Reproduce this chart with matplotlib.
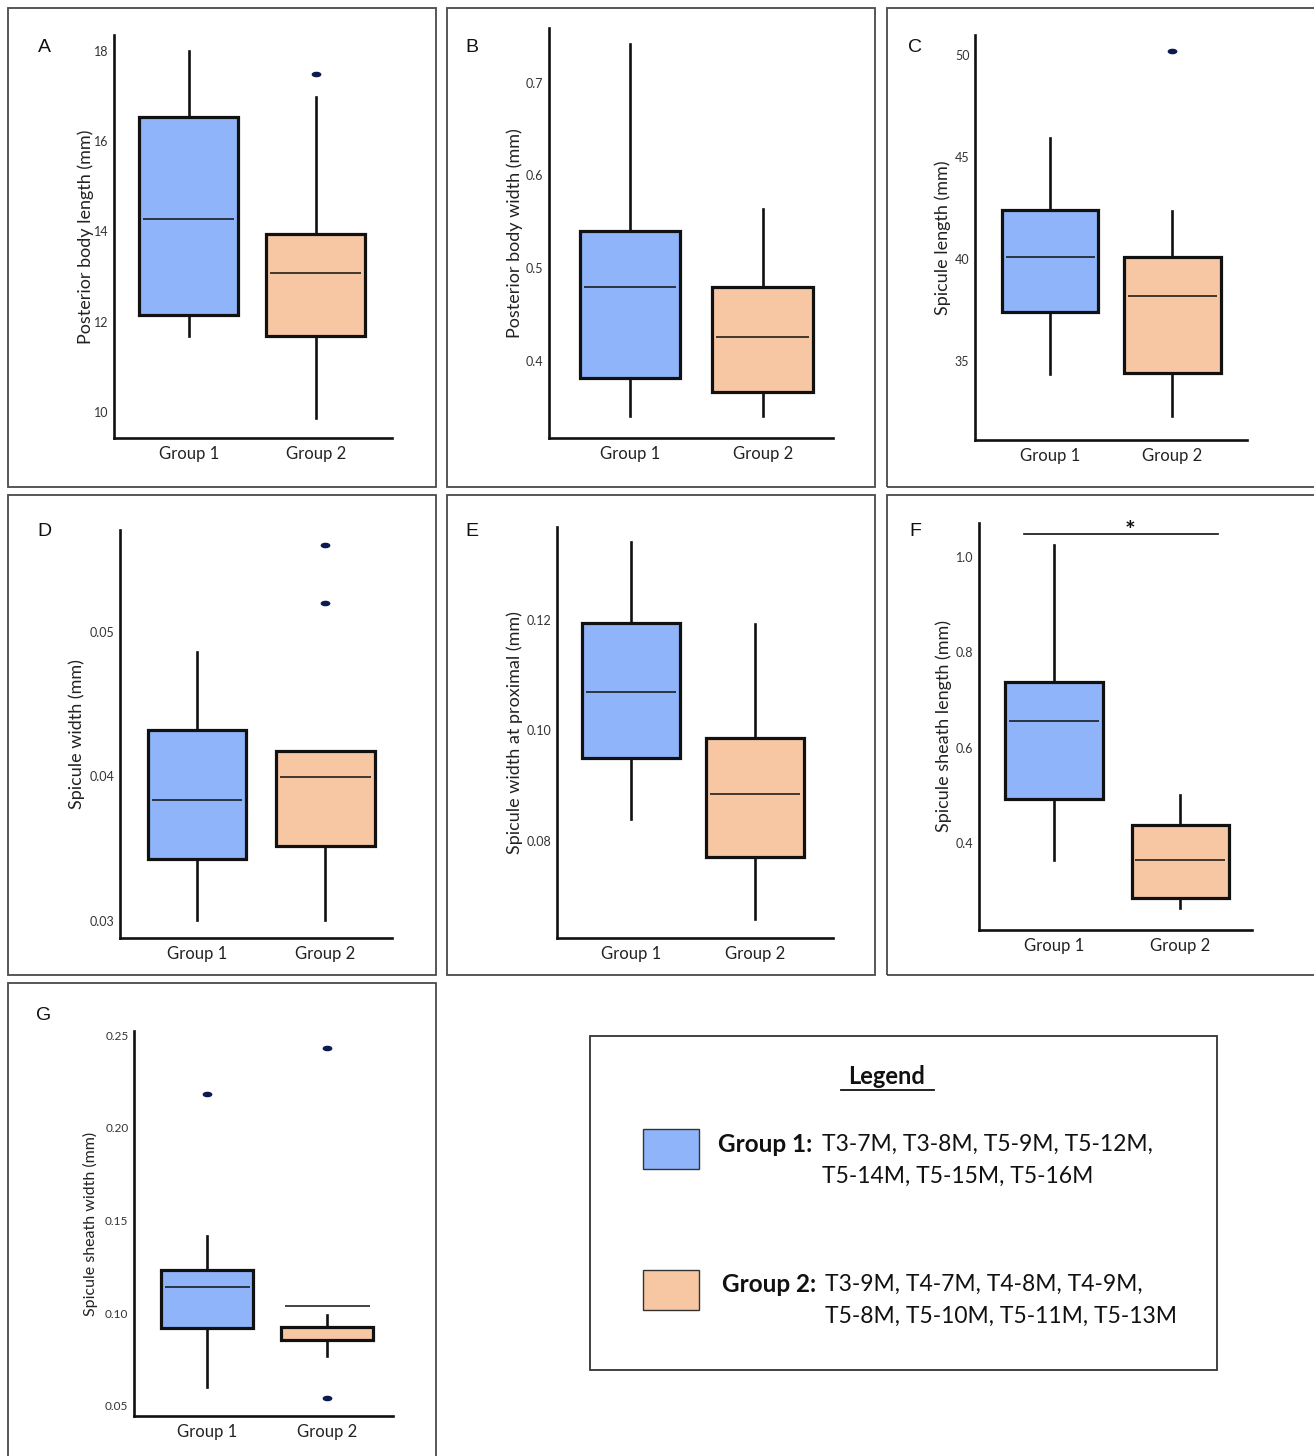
import matplotlib
matplotlib.use("Agg")
import matplotlib.pyplot as plt
from matplotlib.patches import Rectangle
from matplotlib.path import Path
from matplotlib.transforms import Affine2D

W, H = 1314, 1456

# ---- data: (whisker low, Q1, median, Q3, whisker high) ----
groups = ["Group 1", "Group 2"]

a_g1 = [11.67, 12.15, 14.28, 16.54, 18.0]
a_g2 = [9.87, 11.67, 13.08, 13.95, 16.98]
a_fl = [[], [17.49]]

b_g1 = [0.341, 0.382, 0.480, 0.540, 0.742]
b_g2 = [0.341, 0.367, 0.426, 0.480, 0.564]
b_fl = [[], []]

c_g1 = [34.36, 37.4, 40.1, 42.4, 45.93]
c_g2 = [32.3, 34.41, 38.19, 40.1, 42.35]
c_fl = [[], [50.2]]

d_g1 = [0.0301, 0.03426, 0.03834, 0.04325, 0.04862]
d_g2 = [0.0301, 0.03522, 0.03993, 0.04173, 0.04173]
d_fl = [[], [0.0560, 0.0520]]

e_g1 = [0.08398, 0.09506, 0.10686, 0.1195, 0.1341]
e_g2 = [0.06579, 0.07701, 0.08842, 0.09855, 0.1193]
e_fl = [[], []]

f_g1 = [0.364, 0.492, 0.656, 0.738, 1.025]
f_g2 = [0.264, 0.285, 0.364, 0.438, 0.500]
f_fl = [[], []]

g_g1 = [0.0603, 0.0921, 0.1142, 0.1233, 0.1416]
g_g2 = [0.0768, 0.0854, 0.1038, 0.0925, 0.0989]
g_fl = [[0.2182], [0.243, 0.0543]]

a_ticks = [10, 12, 14, 16, 18]
b_ticks = [0.4, 0.5, 0.6, 0.7]
c_ticks = [35, 40, 45, 50]
d_ticks = [0.03, 0.04, 0.05]
e_ticks = [0.08, 0.10, 0.12]
f_ticks = [0.4, 0.6, 0.8, 1.0]
g_ticks = [0.05, 0.10, 0.15, 0.20, 0.25]

a_lab = ["10", "12", "14", "16", "18"]
b_lab = ["0.4", "0.5", "0.6", "0.7"]
c_lab = ["35", "40", "45", "50"]
d_lab = ["0.03", "0.04", "0.05"]
e_lab = ["0.08", "0.10", "0.12"]
f_lab = ["0.4", "0.6", "0.8", "1.0"]
g_lab = ["0.05", "0.10", "0.15", "0.20", "0.25"]

g1_members = "T3-7M, T3-8M, T5-9M, T5-12M,"
g1_members2 = "T5-14M, T5-15M, T5-16M"
g2_members = "T3-9M, T4-7M, T4-8M, T4-9M,"
g2_members2 = "T5-8M, T5-10M, T5-11M, T5-13M"

BLUE = "#8fb4fa"
PEACH = "#f7c6a3"
INK = "#111111"

plt.rcParams["font.family"] = ["Lato", "DejaVu Sans"]

fig = plt.figure(figsize=(W / 100, H / 100), dpi=100)
fig.patch.set_facecolor("white")


def px_rect(x0, y0, x1, y1):
    return [x0 / W, 1 - y1 / H, (x1 - x0) / W, (y1 - y0) / H]


# ellipse marker for outliers
ell = Path.unit_circle().transformed(Affine2D().scale(1.0, 0.5))

# panel layout: letter, letter pos px, frame px, axes px, xlim, ylim, box width, ylabel, label size, labelpad
panels = [
    ("A", (44, 47), (8, 8, 436, 487), (114, 35, 392, 438), (0.41, 2.60), (9.42, 18.35), 0.78,
     "Posterior body length (mm)", 13, 0, a_g1, a_g2, a_fl, a_ticks, a_lab),
    ("B", (472, 47), (447, 8, 875, 487), (549, 28, 833, 438), (0.39, 2.53), (0.317, 0.759), 0.76,
     "Posterior body width (mm)", 13, 2, b_g1, b_g2, b_fl, b_ticks, b_lab),
    ("C", (915, 47), (887, 8, 1320, 487), (975, 35, 1247, 440), (0.385, 2.61), (31.13, 50.98), 0.79,
     "Spicule length (mm)", 13, 3, c_g1, c_g2, c_fl, c_ticks, c_lab),
    ("D", (44, 531), (8, 495, 436, 975), (120, 530, 392, 938), (0.40, 2.52), (0.02882, 0.05706), 0.77,
     "Spicule width (mm)", 13, 3, d_g1, d_g2, d_fl, d_ticks, d_lab),
    ("E", (472, 531), (447, 495, 875, 975), (557, 527, 833, 938), (0.40, 2.63), (0.06244, 0.1368), 0.79,
     "Spicule width at proximal (mm)", 13, 3, e_g1, e_g2, e_fl, e_ticks, e_lab),
    ("F", (915, 531), (887, 495, 1320, 975), (979, 523, 1252, 930), (0.405, 2.57), (0.2175, 1.071), 0.77,
     "Spicule sheath length (mm)", 13, 3, f_g1, f_g2, f_fl, f_ticks, f_lab),
    ("G", (44, 1015), (8, 983, 436, 1470), (134, 1031, 393, 1416), (0.39, 2.55), (0.0446, 0.2522), 0.77,
     "Spicule sheath width (mm)", 11.5, 5, g_g1, g_g2, g_fl, g_ticks, g_lab),
]

for (letter, lpos, frame, box, xlim, ylim, bw, ylabel, lsize, lpad, s1, s2, fl, ticks, labs) in panels:
    fx0, fy0, fx1, fy1 = frame
    fig.patches.append(Rectangle((fx0 / W, 1 - fy1 / H), (fx1 - fx0) / W, (fy1 - fy0) / H,
                                 transform=fig.transFigure, fill=False,
                                 edgecolor="#4a4a4a", linewidth=1.3))
    fig.text(lpos[0] / W, 1 - lpos[1] / H, letter, family="Liberation Sans",
             fontsize=14, color=INK, ha="center", va="center")

    ax = fig.add_axes(px_rect(*box))
    stats = []
    for s, f in zip([s1, s2], fl):
        stats.append(dict(whislo=s[0], q1=s[1], med=s[2], q3=s[3], whishi=s[4], fliers=f))
    bp = ax.bxp(stats, positions=[1, 2], widths=bw, patch_artist=True, showcaps=False,
                boxprops=dict(linewidth=2.3, edgecolor=INK),
                whiskerprops=dict(linewidth=1.9, color=INK),
                medianprops=dict(linewidth=0),
                flierprops=dict(marker=ell, markersize=6, markerfacecolor="#0c1a4f",
                                markeredgecolor="#0c1a4f", linestyle="none"))
    for patch, col in zip(bp["boxes"], [BLUE, PEACH]):
        patch.set_facecolor(col)
    for pos, s in zip([1, 2], [s1, s2]):
        ax.hlines(s[2], pos - bw * 0.46, pos + bw * 0.46, color=INK, linewidth=1.1, zorder=4)

    ax.set_xlim(*xlim)
    ax.set_ylim(*ylim)
    ax.set_xticks([1, 2])
    ax.set_xticklabels(groups, fontsize=12, color="#222222")
    ax.set_yticks(ticks)
    ax.set_yticklabels(labs, fontsize=9 if letter != "G" else 8.5, color="#333333")
    ax.tick_params(length=0, axis="y", pad=4)
    ax.tick_params(length=0, axis="x", pad=6)
    for sp in ["top", "right"]:
        ax.spines[sp].set_visible(False)
    for sp in ["left", "bottom"]:
        ax.spines[sp].set_linewidth(1.9)
        ax.spines[sp].set_color(INK)
    ax.set_ylabel(ylabel, fontsize=lsize, color="#222222", labelpad=lpad)
    ax.patch.set_alpha(0)

    if letter == "F":
        ax.plot([0.762, 2.302], [1.048, 1.048], color=INK, linewidth=1.2, clip_on=False)
        ax.text(1.6, 1.03, "*", ha="center", va="bottom", fontsize=18, fontweight="bold",
                color=INK, clip_on=False)

# ---- legend box ----
fig.patches.append(Rectangle((590 / W, 1 - 1370 / H), (1217 - 590) / W, (1370 - 1036) / H,
                             transform=fig.transFigure, fill=False,
                             edgecolor="#333333", linewidth=1.3))
fig.text(887 / W, 1 - 1076 / H, "Legend", fontsize=17, fontweight="bold",
         ha="center", va="center", color=INK)
fig.lines.append(plt.Line2D([841 / W, 934 / W], [1 - 1090 / H, 1 - 1090 / H],
                            transform=fig.transFigure, color=INK, linewidth=1.3))
for y0, col in [(1129, BLUE), (1270, PEACH)]:
    fig.patches.append(Rectangle((643 / W, 1 - (y0 + 40) / H), 56 / W, 40 / H,
                                 transform=fig.transFigure, facecolor=col,
                                 edgecolor="#333333", linewidth=1.0))

fig.text(718 / W, 1 - 1144 / H, "Group 1:", fontsize=17.5, fontweight="bold",
         ha="left", va="center", color=INK)
fig.text(822 / W, 1 - 1144 / H, g1_members, fontsize=16.5, ha="left", va="center", color=INK)
fig.text(822 / W, 1 - 1176 / H, g1_members2, fontsize=16.5, ha="left", va="center", color=INK)
fig.text(722 / W, 1 - 1284 / H, "Group 2:", fontsize=17.5, fontweight="bold",
         ha="left", va="center", color=INK)
fig.text(825 / W, 1 - 1284 / H, g2_members, fontsize=16.5, ha="left", va="center", color=INK)
fig.text(825 / W, 1 - 1316 / H, g2_members2, fontsize=16.5, ha="left", va="center", color=INK)

fig.savefig("out.png", dpi=100)
